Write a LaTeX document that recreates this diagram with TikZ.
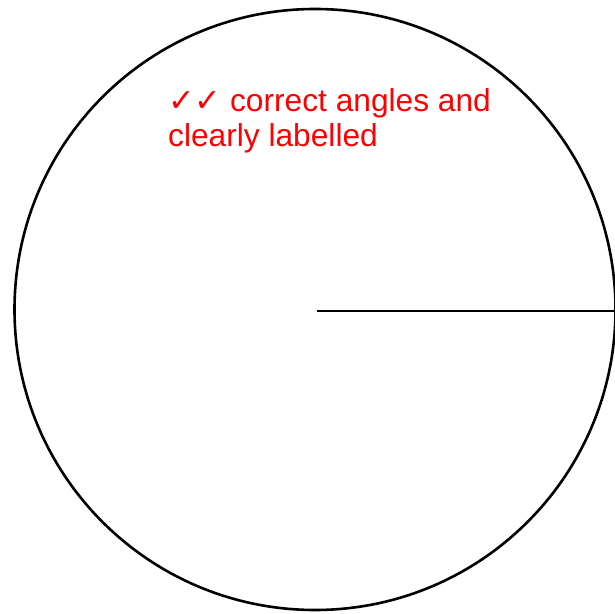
\documentclass[tikz,border=0pt]{standalone}
\usepackage{fontspec}
\setmainfont{Liberation Sans}
\newfontfamily\symfont{DejaVu Sans}
\tikzset{
  outline/.style={draw=black, line width=2.6pt},
  note/.style={text=red, inner sep=0pt, anchor=base west, font=\fontsize{31.7pt}{33.5pt}\selectfont},
}
\begin{document}
\begin{tikzpicture}[x=1pt,y=1pt]
\useasboundingbox (0,0) rectangle (615,613);
\coordinate (c) at (315,303.5);
\coordinate (r0) at (317,302);
\coordinate (r1) at (616,302);
\draw[outline] (c) circle[radius=300.5];
\draw[outline] (r0) -- (r1);
\node[note] (t1) at (168,501.3) {{\symfont ✓✓} correct angles and};
\node[note] (t2) at (168,466) {clearly labelled};
\end{tikzpicture}
\end{document}
